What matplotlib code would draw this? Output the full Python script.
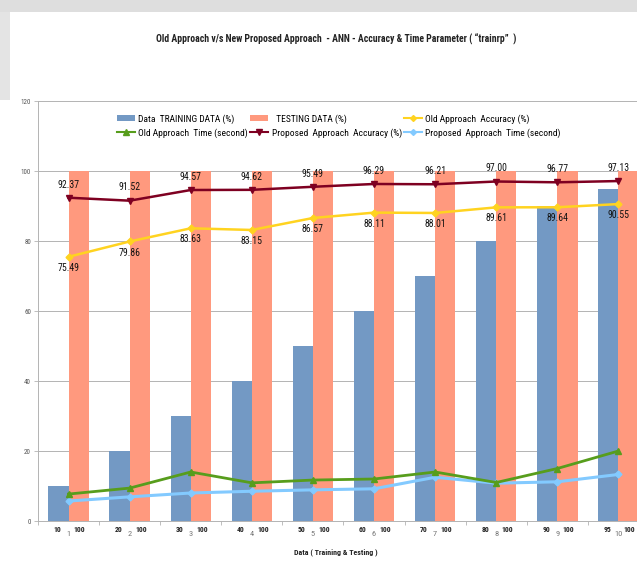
import matplotlib
matplotlib.use('Agg')
import numpy as np
import matplotlib.pyplot as plt
from matplotlib import font_manager as fm
from matplotlib.lines import Line2D
from matplotlib.patches import Patch, Rectangle, Polygon

# ---------------- data ----------------
categories = [1, 2, 3, 4, 5, 6, 7, 8, 9, 10]
train_pct = [10, 20, 30, 40, 50, 60, 70, 80, 90, 95]
test_pct = [100, 100, 100, 100, 100, 100, 100, 100, 100, 100]
old_acc = [75.49, 79.86, 83.63, 83.15, 86.57, 88.11, 88.01, 89.61, 89.64, 90.55]
prop_acc = [92.37, 91.52, 94.57, 94.62, 95.49, 96.29, 96.21, 97.00, 96.77, 97.13]
old_time = [7.7, 9.4, 14.0, 10.9, 11.7, 12.0, 14.0, 11.0, 15.0, 20.0]
prop_time = [5.7, 6.9, 8.0, 8.5, 8.9, 9.2, 12.5, 10.8, 11.2, 13.3]
train_labels = ['10', '20', '30', '40', '50', '60', '70', '80', '90', '95']
test_labels = ['100'] * 10
y_ticks = [0, 20, 40, 60, 80, 100, 120]

title = 'Old Approach v/s New Proposed Approach  - ANN - Accuracy & Time Parameter ( \u201ctrainrp\u201d  )'
xlabel = 'Data ( Training & Testing )'
legend_labels = ['Data  TRAINING DATA (%)', '  TESTING DATA (%)', 'Old Approach  Accuracy (%)',
                 'Old Approach  Time (second)', 'Proposed  Approach  Accuracy (%)',
                 'Proposed  Approach  Time (second)']

# ---------------- font choice ----------------
names = {f.name for f in fm.fontManager.ttflist}
FAM, STRETCH = 'Liberation Sans', 'normal'
for n in ['Liberation Sans Narrow', 'Roboto Condensed', 'Open Sans Condensed', 'DejaVu Sans Condensed']:
    if n in names:
        FAM = n
        break
else:
    for f in fm.fontManager.ttflist:
        if f.name == 'DejaVu Sans' and str(f.stretch) in ('condensed', 'semi-condensed'):
            FAM, STRETCH = 'DejaVu Sans', 'condensed'
            break
plt.rcParams['font.family'] = [FAM, 'DejaVu Sans']
plt.rcParams['font.stretch'] = STRETCH

W, H = 637, 563
fig = plt.figure(figsize=(W / 100, H / 100), dpi=100)
fig.patch.set_facecolor('white')

# grey frame remnants at top/left of screenshot
fig.patches.append(Rectangle((0, 1 - 12 / H), 1, 12 / H, transform=fig.transFigure,
                             facecolor='#dedede', edgecolor='none', zorder=-5))
fig.patches.append(Polygon([(0, 1 - 12 / H), (10 / W, 1 - 12 / H), (10 / W, 1 - 100 / H), (0, 1 - 100 / H)],
                           closed=True, transform=fig.transFigure,
                           facecolor='#e4e4e4', edgecolor='none', zorder=-5))

# axes: x from 38 px to 649 px, y from 101 to 521
ax_left, ax_right = 38, 649
ax_top, ax_bottom = 101, 521
ax = fig.add_axes([ax_left / W, (H - ax_bottom) / H, (ax_right - ax_left) / W, (ax_bottom - ax_top) / H])
ax.set_facecolor('white')

x = np.array(categories, dtype=float)
bw = 0.33
c_blue = '#7399C4'
c_salmon = '#FF997E'
c_yellow = '#FFD320'
c_green = '#579D1C'
c_dred = '#7E0021'
c_lblue = '#83CAFF'

ax.bar(x - bw / 2, train_pct, width=bw, color=c_blue, zorder=2, linewidth=0)
ax.bar(x + bw / 2, test_pct, width=bw, color=c_salmon, zorder=2, linewidth=0)

ax.plot(x, old_acc, color=c_yellow, lw=1.8, marker='D', ms=3.5, zorder=4)
ax.plot(x, prop_acc, color=c_dred, lw=1.8, marker='v', ms=5, zorder=4)
ax.plot(x, old_time, color=c_green, lw=2.0, marker='^', ms=5, zorder=5)
ax.plot(x, prop_time, color=c_lblue, lw=2.2, marker='D', ms=3.5, zorder=4)

# data labels
for xi, v in zip(x, prop_acc):
    ax.annotate(f'{v:.2f}', (xi, v), xytext=(0, 9.5), textcoords='offset points',
                ha='center', va='center', fontsize=7, color='#111111', zorder=6)
for xi, v in zip(x, old_acc):
    ax.annotate(f'{v:.2f}', (xi, v), xytext=(0, -8), textcoords='offset points',
                ha='center', va='center', fontsize=7, color='#111111', zorder=6)

ax.set_xlim(0.5, 10.5)
ax.set_ylim(0, 120)
ax.set_yticks(y_ticks)
ax.set_yticklabels([str(t) for t in y_ticks], fontsize=5, color='#555555')
ax.tick_params(axis='y', length=3, width=0.6, color='#b3b3b3', pad=2)
ax.yaxis.grid(True, color='#b3b3b3', lw=0.7, zorder=0)
ax.set_axisbelow(True)

bounds = np.arange(0.5, 11, 1.0)
ax.set_xticks(bounds)
ax.set_xticklabels([])
ax.tick_params(axis='x', length=3, width=0.6, color='#b3b3b3')

for s in ['top', 'right']:
    ax.spines[s].set_visible(False)
for s in ['left', 'bottom']:
    ax.spines[s].set_color('#b3b3b3')
    ax.spines[s].set_linewidth(0.7)

# category labels under axis
for xi, tr, te, idx in zip(x, train_labels, test_labels, categories):
    ax.annotate(tr, (xi, 0), xycoords=('data', 'axes fraction'), xytext=(-8, -6),
                textcoords='offset points', ha='center', va='center', fontsize=5.5,
                fontweight='bold', color='#222222', annotation_clip=False)
    ax.annotate(te, (xi, 0), xycoords=('data', 'axes fraction'), xytext=(8, -6),
                textcoords='offset points', ha='center', va='center', fontsize=5.5,
                fontweight='bold', color='#222222', annotation_clip=False)
    ax.annotate(str(idx), (xi, 0), xycoords=('data', 'axes fraction'), xytext=(0, -9),
                textcoords='offset points', ha='center', va='center', fontsize=6,
                color='#777777', annotation_clip=False)

fig.text(336 / W, 1 - 552 / H, xlabel, ha='center', va='center', fontsize=5.7,
         fontweight='bold', color='#222222')
fig.text(336 / W, 1 - 39 / H, title, ha='center', va='center', fontsize=7,
         fontweight='bold', color='#222222')

handles = [
    Patch(facecolor=c_blue, edgecolor='none'),
    Patch(facecolor=c_salmon, edgecolor='none'),
    Line2D([], [], color=c_yellow, lw=1.5, marker='D', ms=3),
    Line2D([], [], color=c_green, lw=1.5, marker='^', ms=4),
    Line2D([], [], color=c_dred, lw=1.5, marker='v', ms=4),
    Line2D([], [], color=c_lblue, lw=1.5, marker='D', ms=3),
]
order = [0, 3, 1, 4, 2, 5]
fig.legend([handles[i] for i in order], [legend_labels[i] for i in order],
           loc='upper left', bbox_to_anchor=(117 / W, 1 - 114 / H), ncol=3,
           frameon=False, fontsize=6.8, handlelength=1.9, handleheight=0.7,
           handletextpad=0.35, columnspacing=0.25, borderpad=0, labelspacing=0.5,
           borderaxespad=0)

fig.savefig('out.png', dpi=100, facecolor='white')
